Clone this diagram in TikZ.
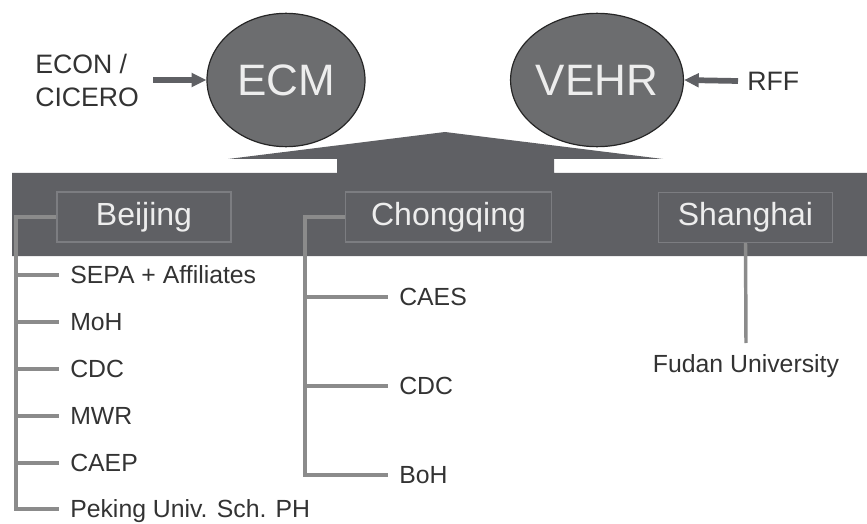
\documentclass[tikz,border=0pt]{standalone}
\usepackage{fontspec}
\setmainfont{Liberation Sans}
\usetikzlibrary{shapes.geometric,arrows.meta}
\definecolor{bargrey}{HTML}{5F6064}
\definecolor{hubgrey}{HTML}{6C6D6F}
\definecolor{boxline}{HTML}{7C7D81}
\definecolor{linegrey}{HTML}{8B8B8B}
\definecolor{inkgrey}{HTML}{333333}
\definecolor{paper}{HTML}{EDEDED}

\begin{document}
\begin{tikzpicture}[x=0.75pt, y=-0.75pt,
    hub/.style={ellipse, draw=black!85, line width=0.9pt, fill=hubgrey, minimum width=118.5pt,
      minimum height=100pt, inner sep=0pt, text=paper, font=\fontsize{33}{36}\selectfont},
    city/.style={draw=boxline, line width=0.8pt, minimum height=37.5pt, inner sep=0pt,
      text=paper, font=\fontsize{24}{28}\selectfont},
    org/.style={anchor=west, inner sep=0pt, text height=13.4pt, text depth=0pt,
      text=inkgrey, font=\fontsize{18.6}{22}\selectfont},
    source/.style={inner sep=0pt, text=inkgrey, font=\fontsize{20}{24.75}\selectfont},
    feed/.style={draw=bargrey, line width=4.3pt, -{Triangle[length=11pt, width=10pt]}},
    branch/.style={draw=linegrey, line width=2.6pt}]
  \useasboundingbox (0,0) rectangle (867,524);
  % the two models and who feeds them
  \node[hub] (ecm) at (286,80) {ECM};
  \node[hub] (vehr) at (597,80) {VEHR};
  \node[source, anchor=west, align=left] (econ) at (35,80) {ECON /\\CICERO};
  \node[source, anchor=west] (rff) at (747,81) {RFF};
  \draw[feed] ([xshift=10.5pt]econ.east) -- (ecm.west);
  \draw[feed] ([xshift=-6.75pt]rff.west) -- (vehr.east);
  % platform with the roof
  \fill[bargrey] (12,173) -- (337,173) -- (337,159) -- (228,159) -- (445,132) -- (663,159)
    -- (554,159) -- (554,173) -- (867,173) -- (867,256) -- (12,256) -- cycle;
  \node[city, minimum width=130.5pt] (bj) at (144,217) {Beijing};
  \node[city, minimum width=155pt] (cq) at (448.5,217) {Chongqing};
  \node[city, minimum width=130pt] (sh) at (745.5,217.5) {Shanghai};
  % Beijing partners
  \foreach \k/\y/\t in {1/275/SEPA + Affiliates, 2/322/MoH, 3/369/CDC,
                        4/416/MWR, 5/463/CAEP, 6/509/Peking Univ. Sch. PH}
    \node[org] (bj\k) at (70,\y) {\t};
  \coordinate (bjtrunk) at (16,217);
  \draw[branch] (bj.west) -- (bjtrunk) |- ([xshift=-8.25pt]bj6.west);
  \foreach \k in {1,...,5}
    \draw[branch] (bjtrunk |- bj\k.west) -- ([xshift=-8.25pt]bj\k.west);
  % Chongqing partners
  \foreach \k/\y/\t in {1/297/CAES, 2/386/CDC, 3/475/BoH}
    \node[org] (cq\k) at (399,\y) {\t};
  \coordinate (cqtrunk) at (305,217);
  \draw[branch] (cq.west) -- (cqtrunk) |- ([xshift=-8.25pt]cq3.west);
  \foreach \k in {1,2}
    \draw[branch] (cqtrunk |- cq\k.west) -- ([xshift=-8.25pt]cq\k.west);
  % Shanghai partner
  \node[org, anchor=center] (fudan) at (746,364) {Fudan University};
  \coordinate (shend) at (746,343);
  \draw[branch] (sh.south) -- (shend);
\end{tikzpicture}
\end{document}
